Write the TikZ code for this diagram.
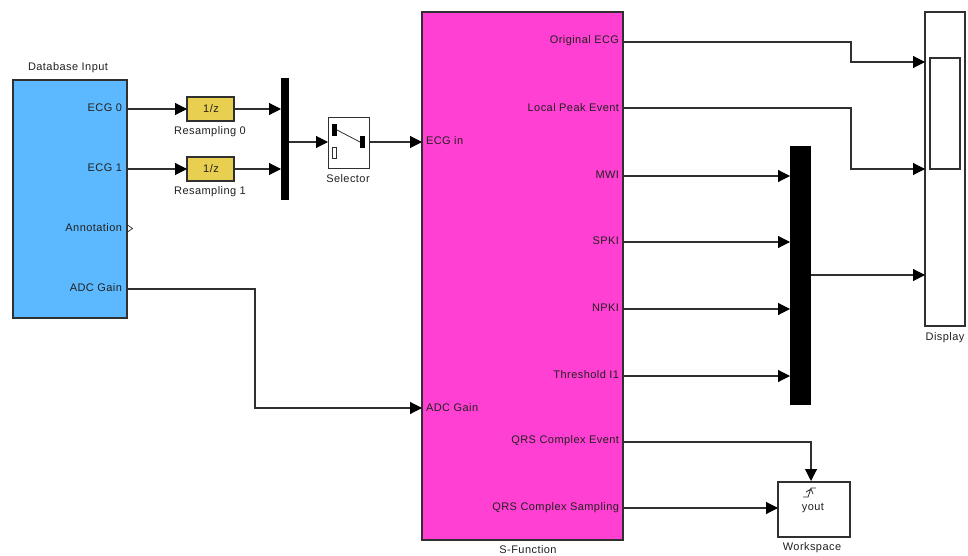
\documentclass[tikz,border=0pt]{standalone}
\usepackage{fontspec}
\setmainfont[LetterSpace=4]{Liberation Sans}
\usetikzlibrary{arrows.meta}
\definecolor{dbblue}{HTML}{5DB9FF}
\definecolor{sfmag}{HTML}{FF40D2}
\definecolor{dlyel}{HTML}{E8CF50}
\definecolor{edge}{HTML}{303030}
\definecolor{txt}{HTML}{202020}
\tikzset{
  x=1pt,y=-1pt,
  blk/.style={draw=edge,line width=1.2pt,inner sep=0,outer sep=0,anchor=north west},
  barblk/.style={fill=black,draw=none,inner sep=0,outer sep=0,anchor=north west},
  lab/.style={font=\fontsize{11}{13}\selectfont,text=txt,inner sep=0,outer sep=0},
  portl/.style={lab,anchor=east},
  portr/.style={lab,anchor=west},
  wire/.style={draw=edge,line width=1.1pt,-{Triangle[length=12pt,width=12pt,color=black]}},
}
\newcommand{\blockat}[5]{\node[blk,minimum width=#4pt,minimum height=#5pt,#1] (#2) at (#3) {};}
\begin{document}
\begin{tikzpicture}
\useasboundingbox (0,0) rectangle (968,556);
% blocks
\blockat{fill=dbblue}{db}{13,80}{114}{238}
\blockat{fill=dlyel}{d0}{187,97}{47}{24}
\blockat{fill=dlyel}{d1}{187,157}{47}{24}
\node[barblk,minimum width=7.5pt,minimum height=122pt] (mux) at (281,78) {};
\blockat{fill=white,line width=0.9pt}{sel}{328,117}{41}{51}
\blockat{fill=sfmag}{sf}{422,12}{201}{528}
\blockat{fill=white}{disp}{925,12}{40}{314}
\blockat{fill=white}{dispin}{930,58}{30}{111}
\node[barblk,minimum width=21pt,minimum height=259pt] (bus) at (790,146) {};
\blockat{fill=white,line width=2.2pt}{ws}{778,482}{72}{55}
% selector icon
\node[barblk,minimum width=5pt,minimum height=12pt] (swa) at (332,124) {};
\node[barblk,minimum width=5pt,minimum height=12pt] (swb) at (360,136) {};
\node[blk,fill=white,line width=.8pt,minimum width=4.5pt,minimum height=11pt] (swc) at (332,147) {};
\draw[edge,line width=.8pt] (swa.east) -- (swb.west);
% ports
\coordinate (pe0) at (127,109); \coordinate (pe1) at (127,169); \coordinate (pgain) at (127,289);
\coordinate (m0) at (281,109); \coordinate (m1) at (281,169); \coordinate (mo) at (288.5,142);
\coordinate (sin) at (328,142); \coordinate (sout) at (369,142);
\coordinate (secg) at (422,142); \coordinate (sgain) at (422,408);
\coordinate (so1) at (623,42); \coordinate (so2) at (623,108);
\coordinate (so3) at (623,176); \coordinate (so4) at (623,242); \coordinate (so5) at (623,309); \coordinate (so6) at (623,376);
\coordinate (so7) at (623,442); \coordinate (so8) at (623,508);
\coordinate (b3) at (790,176); \coordinate (b4) at (790,242); \coordinate (b5) at (790,309); \coordinate (b6) at (790,376);
\coordinate (bo) at (811,275);
\coordinate (di1) at (925,62); \coordinate (di2) at (925,169); \coordinate (di3) at (925,275);
\coordinate (wt) at (811,481); \coordinate (wl) at (778,508);
% wires
\draw[wire] (pe0) -- (pe0 -| d0.west);
\draw[wire] (pe1) -- (pe1 -| d1.west);
\draw[wire] (pe0 -| d0.east) -- (m0);
\draw[wire] (pe1 -| d1.east) -- (m1);
\draw[wire] (mo) -- (sin);
\draw[wire] (sout) -- (secg);
\draw[wire] (pgain) -- (255,289) -- (255,408) -- (sgain);
\draw[wire] (so1) -- (851,42) -- (851,62) -- (di1);
\draw[wire] (so2) -- (851,108) -- (851,169) -- (di2);
\draw[wire] (so3) -- (b3);
\draw[wire] (so4) -- (b4);
\draw[wire] (so5) -- (b5);
\draw[wire] (so6) -- (b6);
\draw[wire] (bo) -- (di3);
\draw[wire] (so7) -- (811,442) -- (wt);
\draw[wire] (so8) -- (wl);
% labels
\node[lab] (ldb) at (68,68) {Database Input};
\node[portl] (le0) at (122,108) {ECG 0};
\node[portl] (le1) at (122,168) {ECG 1};
\node[portl] (lan) at (122,228) {Annotation};
\draw[edge,line width=.7pt] (127.5,225) -- (132.5,228.5) -- (127.5,232);
\node[portl] (lg) at (122,288) {ADC Gain};
\node[lab] (t0) at (211,109) {1/z};
\node[lab] (t1) at (211,169) {1/z};
\node[lab] (r0) at (210,132) {Resampling 0};
\node[lab] (r1) at (210,192) {Resampling 1};
\node[lab] (lsel) at (348,179) {Selector};
\node[portr] (lin) at (426,141) {ECG in};
\node[portr] (lgn) at (426,408) {ADC Gain};
\node[portl] (o1) at (619,41) {Original ECG};
\node[portl] (o2) at (619,108) {Local Peak Event};
\node[portl] (o3) at (619,175) {MWI};
\node[portl] (o4) at (619,241) {SPKI};
\node[portl] (o5) at (619,308) {NPKI};
\node[portl] (o6) at (619,375) {Threshold I1};
\node[portl] (o7) at (619,441) {QRS Complex Event};
\node[portl] (o8) at (619,508) {QRS Complex Sampling};
\node[lab] (lsf) at (528,550) {S-Function};
\node[lab] (ldp) at (945,338) {Display};
\node[lab] (lws) at (812,548) {Workspace};
\node[lab] (lyo) at (813,508) {yout};
% trigger icon
\draw[edge,line width=.8pt] (803,497) -- (808,497) -- (811,488) -- (816,488) (806,492) -- (811,489) -- (813,494);
\end{tikzpicture}
\end{document}
